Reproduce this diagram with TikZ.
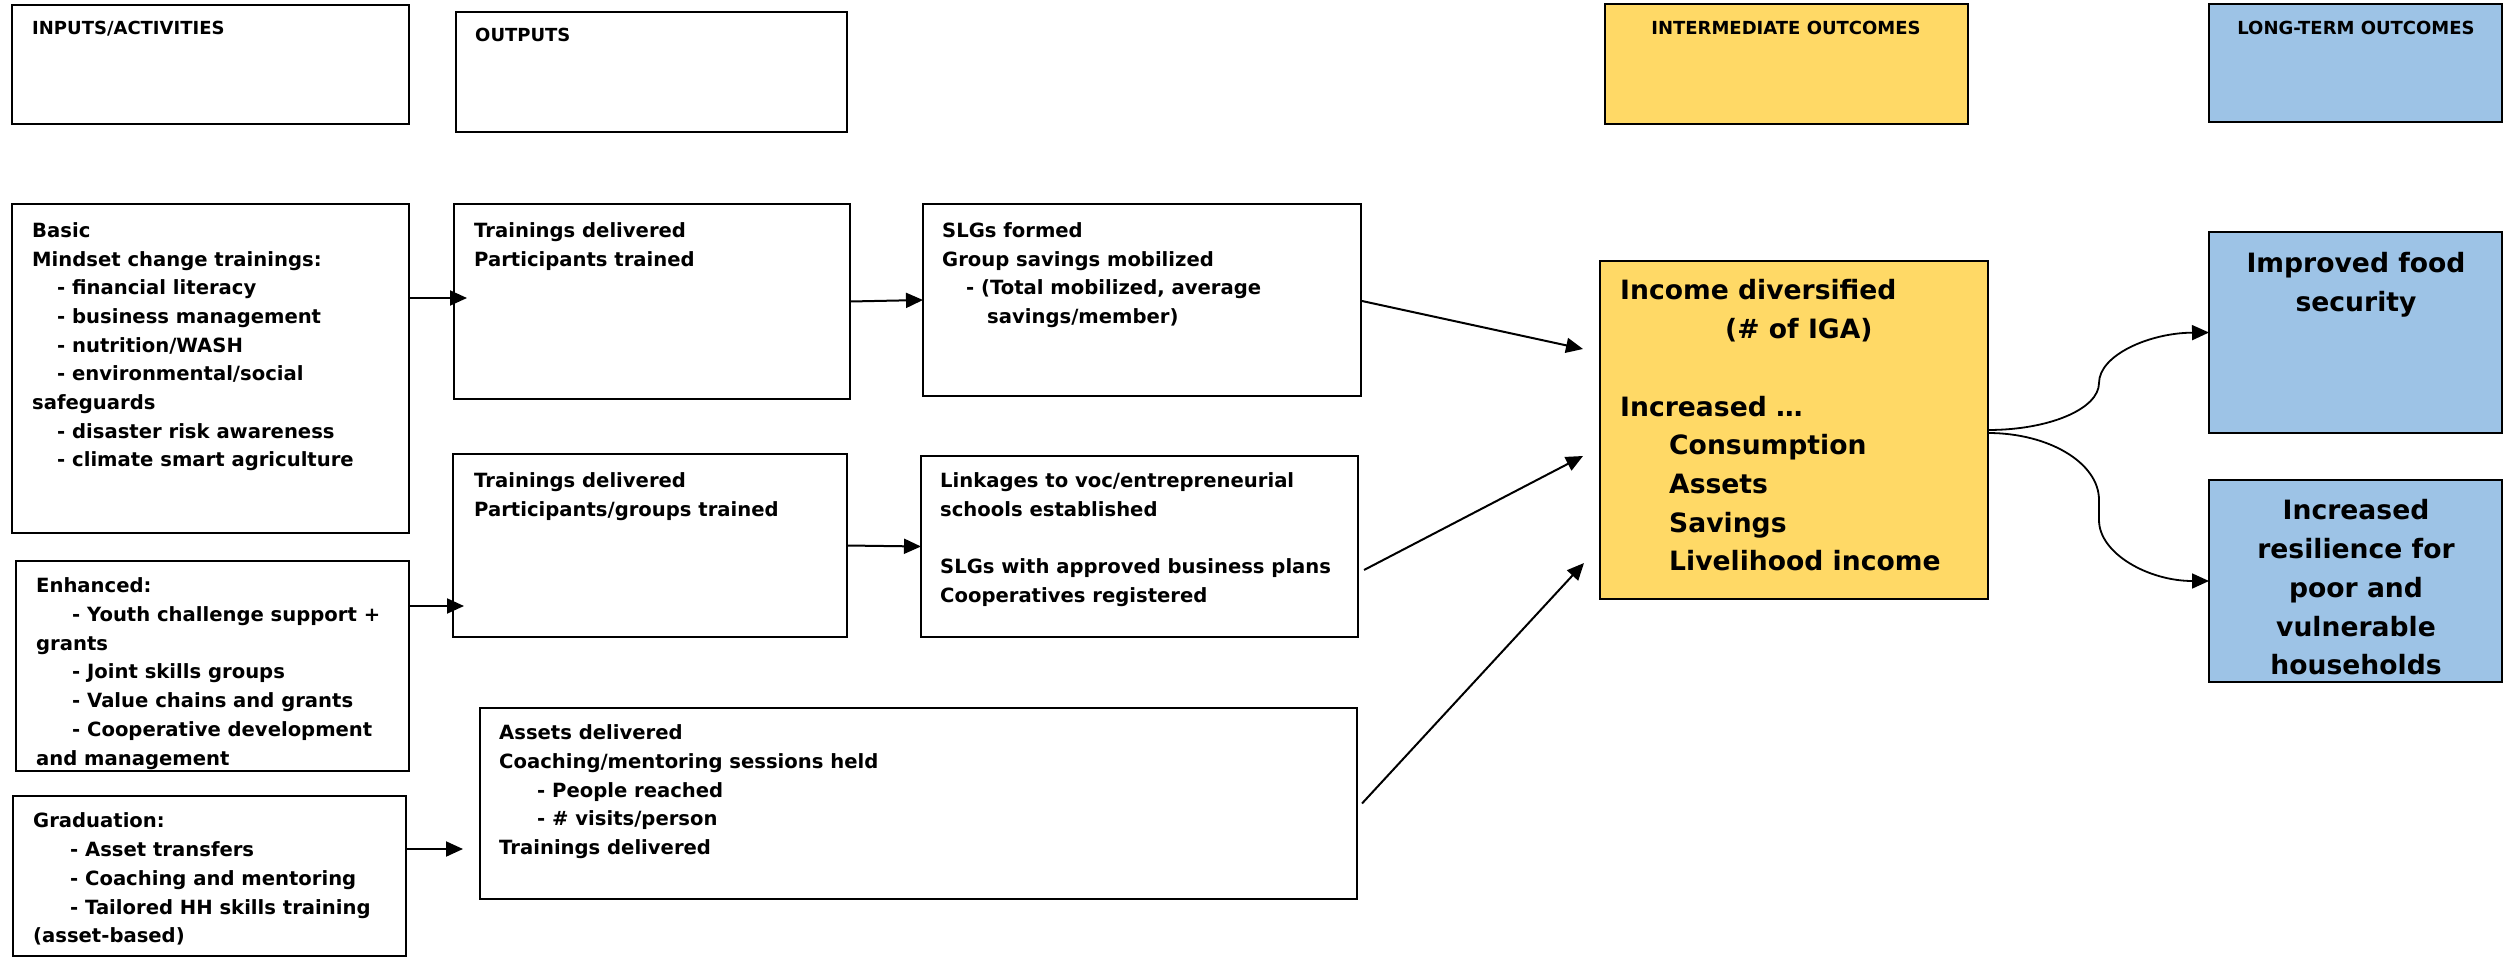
\documentclass[tikz,border=0pt]{standalone}
\usepackage{fontspec}
\setmainfont{DejaVu Sans}
\usetikzlibrary{arrows.meta,calc}
\definecolor{goldbox}{HTML}{FFD966}
\definecolor{bluebox}{HTML}{9DC3E6}
\begin{document}
\begin{tikzpicture}[x=1pt,y=-1pt,
  box/.style={draw=black, line width=2pt, anchor=north west, inner sep=0pt, outer sep=0pt},
  txt/.style={anchor=north west, inner sep=0pt, align=left, font=\bfseries\fontsize{19.6}{28.7}\selectfont},
  hdr/.style={inner sep=0pt, font=\bfseries\fontsize{18}{22}\selectfont},
  big/.style={inner sep=0pt, font=\bfseries\fontsize{26.6}{38.7}\selectfont},
  arr/.style={line width=2pt, -{Triangle[length=17pt,width=15pt]}},
  arrc/.style={line width=1.8pt, -{Triangle[length=17pt,width=15pt]}}]
\useasboundingbox (0,0) rectangle (2504,958);

% header boxes
\node[box, minimum width=397pt, minimum height=119pt] (hIn) at (12,5) {};
\node[box, minimum width=391pt, minimum height=120pt] (hOut) at (456,12) {};
\node[box, fill=goldbox, minimum width=363pt, minimum height=120pt] (hInt) at (1605,4) {};
\node[box, fill=bluebox, minimum width=293pt, minimum height=118pt] (hLT) at (2209,4) {};
\node[hdr, anchor=north west] (hInT) at (32,21) {INPUTS/ACTIVITIES};
\node[hdr, anchor=north west] (hOutT) at (475,28) {OUTPUTS};
\node[hdr, anchor=north] (hIntT) at (1786,21) {INTERMEDIATE OUTCOMES};
\node[hdr, anchor=north] (hLTT) at (2356,21) {LONG-TERM OUTCOMES};

% input boxes
\node[box, minimum width=397pt, minimum height=329pt] (basic) at (12,204) {};
\node[box, minimum width=393pt, minimum height=210pt] (enh) at (16,561) {};
\node[box, minimum width=393pt, minimum height=160pt] (grad) at (13,796) {};
% output boxes
\node[box, minimum width=396pt, minimum height=195pt] (out1) at (454,204) {};
\node[box, minimum width=394pt, minimum height=183pt] (out2) at (453,454) {};
\node[box, minimum width=877pt, minimum height=191pt] (assets) at (480,708) {};
\node[box, minimum width=438pt, minimum height=192pt] (slg) at (923,204) {};
\node[box, minimum width=437pt, minimum height=181pt] (link) at (921,456) {};
% outcomes
\node[box, fill=goldbox, minimum width=388pt, minimum height=338pt] (inc) at (1600,261) {};
\node[box, fill=bluebox, minimum width=293pt, minimum height=201pt] (food) at (2209,232) {};
\node[box, fill=bluebox, minimum width=293pt, minimum height=202pt] (res) at (2209,480) {};

% texts
\node[txt] (tbasic) at (32,222.3) {Basic\\
Mindset change trainings:\\
\hspace*{25pt}- financial literacy\\
\hspace*{25pt}- business management\\
\hspace*{25pt}- nutrition/WASH\\
\hspace*{25pt}- environmental/social\\
safeguards\\
\hspace*{25pt}- disaster risk awareness\\
\hspace*{25pt}- climate smart agriculture};

\node[txt] (tenh) at (36,577.8) {Enhanced:\\
\hspace*{36pt}- Youth challenge support +\\
grants\\
\hspace*{36pt}- Joint skills groups\\
\hspace*{36pt}- Value chains and grants\\
\hspace*{36pt}- Cooperative development\\
and management};

\node[txt] (tgrad) at (33,812.8) {Graduation:\\
\hspace*{37pt}- Asset transfers\\
\hspace*{37pt}- Coaching and mentoring\\
\hspace*{37pt}- Tailored HH skills training\\
(asset-based)};

\node[txt] (tout1) at (474,222.3) {Trainings delivered\\Participants trained};
\node[txt] (tout2) at (474,472.8) {Trainings delivered\\Participants/groups trained};

\node[txt] (tassets) at (499,724.8) {Assets delivered\\
Coaching/mentoring sessions held\\
\hspace*{38pt}- People reached\\
\hspace*{38pt}- \# visits/person\\
Trainings delivered};

\node[txt] (tslg) at (942,222.3) {SLGs formed\\
Group savings mobilized\\
\hspace*{24pt}- (Total mobilized, average\\
\hspace*{45pt}savings/member)};

\node[txt] (tlink) at (940,472.8) {Linkages to voc/entrepreneurial\\
schools established\\[28.7pt]
SLGs with approved business plans\\
Cooperatives registered};

\node[big, anchor=north west, align=left] (tinc) at (1620,279.5) {Income diversified\\
\hspace*{105pt}(\# of IGA)\\[38.7pt]
Increased …\\
\hspace*{49pt}Consumption\\
\hspace*{49pt}Assets\\
\hspace*{49pt}Savings\\
\hspace*{49pt}Livelihood income};

\node[big, anchor=north, align=center] (tfood) at (2356,252.5) {Improved food\\security};
\node[big, anchor=north, align=center] (tres) at (2356,499.5) {Increased\\resilience for\\poor and\\vulnerable\\households};

% arrows
\coordinate (b1) at ($(basic.north east)+(0,94)$);
\draw[arr, shorten >=-13pt] (b1) -- (b1 -| out1.west);
\coordinate (e1) at ($(enh.north east)+(0,45)$);
\draw[arr, shorten >=-11pt] (e1) -- (e1 -| out2.west);
\coordinate (g1) at ($(grad.north east)+(0,53)$);
\draw[arr, shorten >=17pt] (g1) -- (g1 -| assets.west);

\draw[arr] (out1.east) -- (slg.west);
\draw[arr] (out2.east) -- (link.west);

\draw[arr] ($(slg.east)+(1,1)$) -- ($(inc.north west)+(-17,88)$);
\draw[arr] ($(link.north east)+(6,114)$) -- ($(inc.north west)+(-17,195)$);
\draw[arr] ($(assets.east)+(5,0)$) -- ($(inc.north west)+(-16,302)$);

\coordinate (m1) at (2099,383);
\coordinate (m2a) at (2099,500);
\coordinate (m2b) at (2099,520);
\draw[arrc] (inc.east) .. controls (2049,430) and (2099,409) .. (m1)
  .. controls (2099,355.5) and (2148.5,333) .. (food.west);
\draw[arrc] ($(inc.east)+(0,3)$) .. controls (2049,433) and (2099,463) .. (m2a)
  -- (m2b) .. controls (2099,553.5) and (2148.5,581) .. (res.west);
\end{tikzpicture}
\end{document}
